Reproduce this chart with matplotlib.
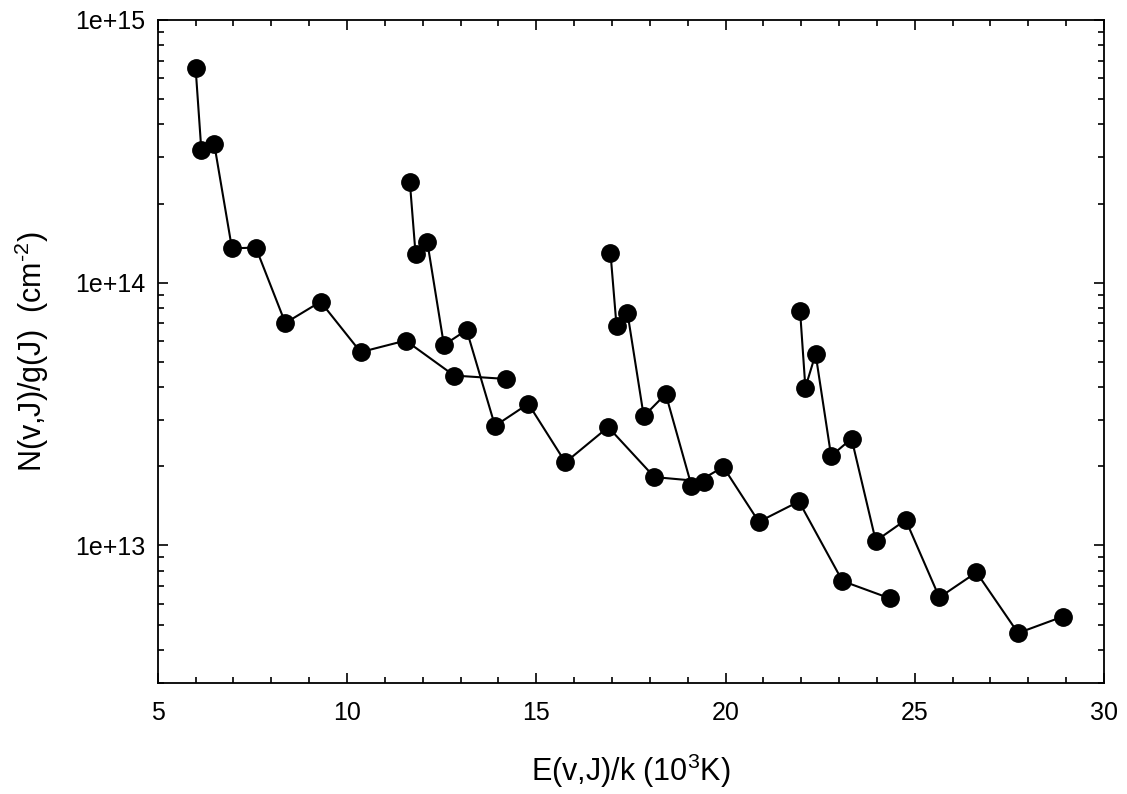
"""H2 excitation diagram — column density per statistical weight vs upper level energy."""
import math

import matplotlib
matplotlib.use("Agg")
import matplotlib.pyplot as plt
from matplotlib.ticker import FuncFormatter, LogLocator, MultipleLocator

plt.rcParams["font.family"] = ["Liberation Sans", "DejaVu Sans"]
plt.rcParams["mathtext.fontset"] = "custom"
plt.rcParams["mathtext.rm"] = "Liberation Sans"
plt.rcParams["mathtext.it"] = "Liberation Sans"

# v = 1 .. 4 ladders (E in 10^3 K, N/g in cm^-2)
e_v1 = [6.00, 6.15, 6.49, 6.96, 7.59, 8.37, 9.30, 10.36, 11.55, 12.83, 14.21]
n_v1 = [6.53e14, 3.21e14, 3.38e14, 1.35e14, 1.36e14, 7.02e13, 8.46e13, 5.44e13, 6.02e13, 4.43e13, 4.30e13]

e_v2 = [11.66, 11.81, 12.12, 12.56, 13.16, 13.91, 14.79, 15.77, 16.90, 18.12, 19.44]
n_v2 = [2.41e14, 1.29e14, 1.43e14, 5.79e13, 6.60e13, 2.85e13, 3.46e13, 2.07e13, 2.82e13, 1.82e13, 1.75e13]

e_v3 = [16.96, 17.12, 17.41, 17.84, 18.42, 19.10, 19.94, 20.88, 21.94, 23.09, 24.34]
n_v3 = [1.30e14, 6.86e13, 7.66e13, 3.10e13, 3.77e13, 1.69e13, 1.99e13, 1.23e13, 1.47e13, 7.32e12, 6.29e12]

e_v4 = [21.97, 22.11, 22.38, 22.79, 23.33, 23.97, 24.76, 25.65, 26.63, 27.73, 28.91]
n_v4 = [7.80e13, 3.99e13, 5.35e13, 2.19e13, 2.55e13, 1.04e13, 1.25e13, 6.34e12, 7.90e12, 4.64e12, 5.36e12]

ladders = [(e_v1, n_v1), (e_v2, n_v2), (e_v3, n_v3), (e_v4, n_v4)]

fig = plt.figure(figsize=(11.27, 7.94), dpi=100)
ax = fig.add_axes([0.140, 0.140, 0.8396, 0.8350])

for e, n in ladders:
    ax.plot(e, n, "-o", color="black", lw=1.5, ms=12.5, mfc="black", mec="black")

ax.set_yscale("log")
ax.set_xlim(5, 30)
ax.set_ylim(3e12, 1e15)

ax.xaxis.set_major_locator(MultipleLocator(5))
ax.xaxis.set_minor_locator(MultipleLocator(1))
ax.yaxis.set_major_locator(LogLocator(base=10))
ax.yaxis.set_minor_locator(LogLocator(base=10, subs=range(2, 10)))
ax.yaxis.set_major_formatter(FuncFormatter(lambda v, _: f"1e+{int(round(math.log10(v)))}"))
ax.yaxis.set_minor_formatter(FuncFormatter(lambda v, _: ""))

ax.tick_params(which="both", direction="in", top=True, right=True, width=1.2)
ax.tick_params(which="major", length=7.5, labelsize=18)
ax.tick_params(axis="x", which="major", pad=13)
ax.tick_params(axis="y", which="major", pad=9)
ax.tick_params(which="minor", length=4.5)
for s in ax.spines.values():
    s.set_linewidth(1.3)

ax.set_xlabel(r"E(v,J)/k (10$^{3}$K)", fontsize=22, labelpad=19)
ax.set_ylabel(r"N(v,J)/g(J)  (cm$^{\text{-2}}$)", fontsize=22, labelpad=17)

fig.savefig("out.png", dpi=100)
